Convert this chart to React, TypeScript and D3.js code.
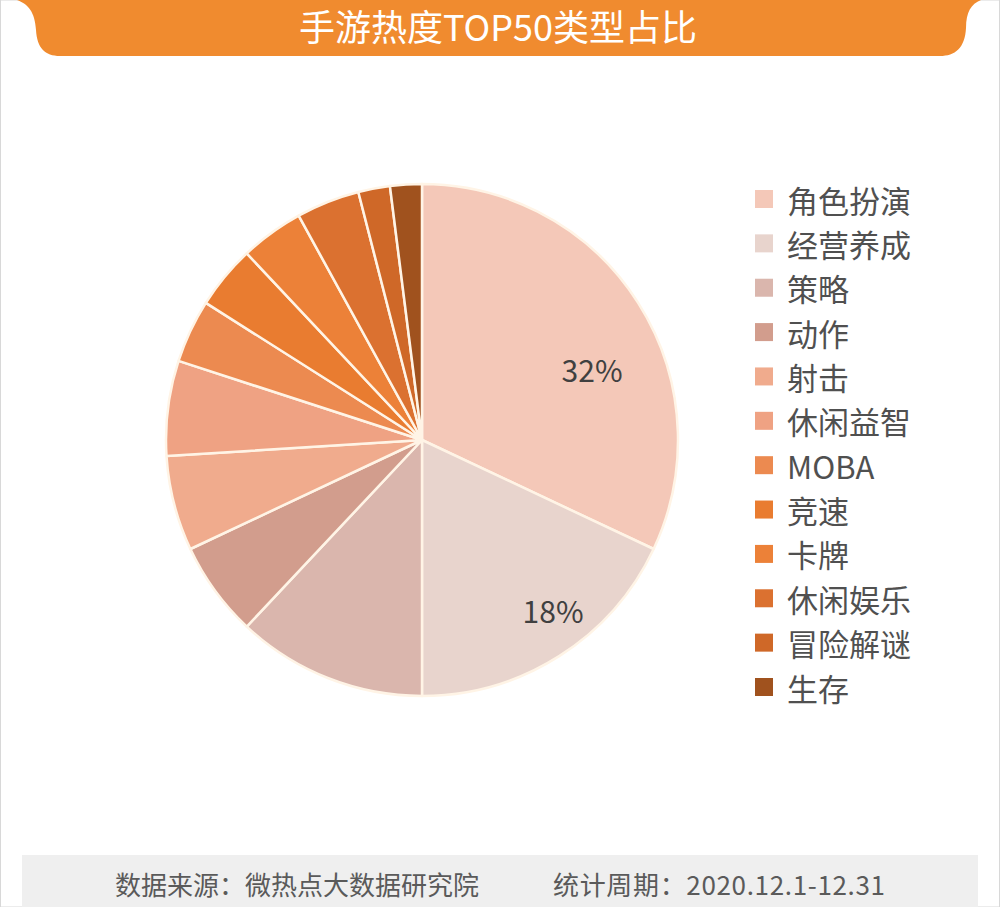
import React from "react";
import * as d3 from "d3";

const categories = ["角色扮演", "经营养成", "策略", "动作", "射击", "休闲益智", "MOBA", "竞速", "卡牌", "休闲娱乐", "冒险解谜", "生存"];
const values = [32, 18, 12, 6, 6, 6, 4, 4, 4, 4, 2, 2];
const colors = ["#F4C8B8", "#E8D4CD", "#DAB6AD", "#D29D8D", "#F0AB8D", "#EFA283", "#EC8A50", "#E97C30", "#EC8138", "#DB7130", "#CF6828", "#A0521E"];
const shownLabels = ["32%", "18%"];
const title = "手游热度TOP50类型占比";
const footerLeft = "数据来源：微热点大数据研究院";
const footerRight = "统计周期：2020.12.1-12.31";

export default function App() {
  const W = 1000, H = 907;
  const cx = 422, cy = 440, r = 256;
  const pie = d3.pie<number>().sort(null).value((d) => d)(values);
  const arc = d3.arc<d3.PieArcDatum<number>>().innerRadius(0).outerRadius(r);
  const legendY = d3.scaleLinear().domain([0, categories.length - 1]).range([199, 687]);
  const font = "'Noto Sans CJK SC', 'Noto Sans', sans-serif";
  // label placement (radius factor, angular shift in radians) for the two labelled slices
  const labelPlace = [
    { rf: 0.72, da: 0.17 },
    { rf: 0.84, da: -0.09 },
  ];
  const titlePath = "M17,0 L981,0 C971,4 966,12 966,28 C965,48 955,56 940,56 L60,56 C45,56 37,48 36,30 C35,12 28,4 17,0 Z";
  return (
    <svg width={W} height={H} style={{ position: "absolute", left: 0, top: 0, background: "#fff" }}>
      <rect x={0.5} y={0} width={W - 1} height={H} fill="#fff" stroke="#d8d8d8" strokeWidth={1} />
      <path d={titlePath} fill="#F08B2F" />
      <text x={498} y={41} textAnchor="middle" fill="#fff" fontSize={36} fontFamily={font}>{title}</text>
      <g transform={`translate(${cx},${cy})`}>
        {pie.map((p, i) => (
          <path key={i} d={arc(p) || ""} fill={colors[i]} stroke="#FFF4E6" strokeWidth={2.5} strokeLinejoin="round" />
        ))}
        {shownLabels.map((l, i) => {
          const a = (pie[i].startAngle + pie[i].endAngle) / 2 + labelPlace[i].da;
          const rr = r * labelPlace[i].rf;
          const x = Math.sin(a) * rr;
          const y = -Math.cos(a) * rr;
          return (
            <text key={i} x={x} y={y} textAnchor="middle" dominantBaseline="central" fontSize={30} fill="#404040" fontFamily={font}>{l}</text>
          );
        })}
      </g>
      {categories.map((c, i) => (
        <g key={c} transform={`translate(755,${legendY(i)})`}>
          <rect x={0} y={-9} width={18} height={18} fill={colors[i]} />
          <text x={32} y={0} dominantBaseline="central" fontSize={31} fill="#505050" fontFamily={font}>{c}</text>
        </g>
      ))}
      <rect x={22} y={855} width={956} height={52} fill="#EFEFEF" />
      <text x={115} y={895} fontSize={26} fill="#5a5a5a" fontFamily={font}>{footerLeft}</text>
      <text x={553} y={895} fontSize={26} fill="#5a5a5a" fontFamily={font} textLength={332} lengthAdjust="spacing">{footerRight}</text>
    </svg>
  );
}
